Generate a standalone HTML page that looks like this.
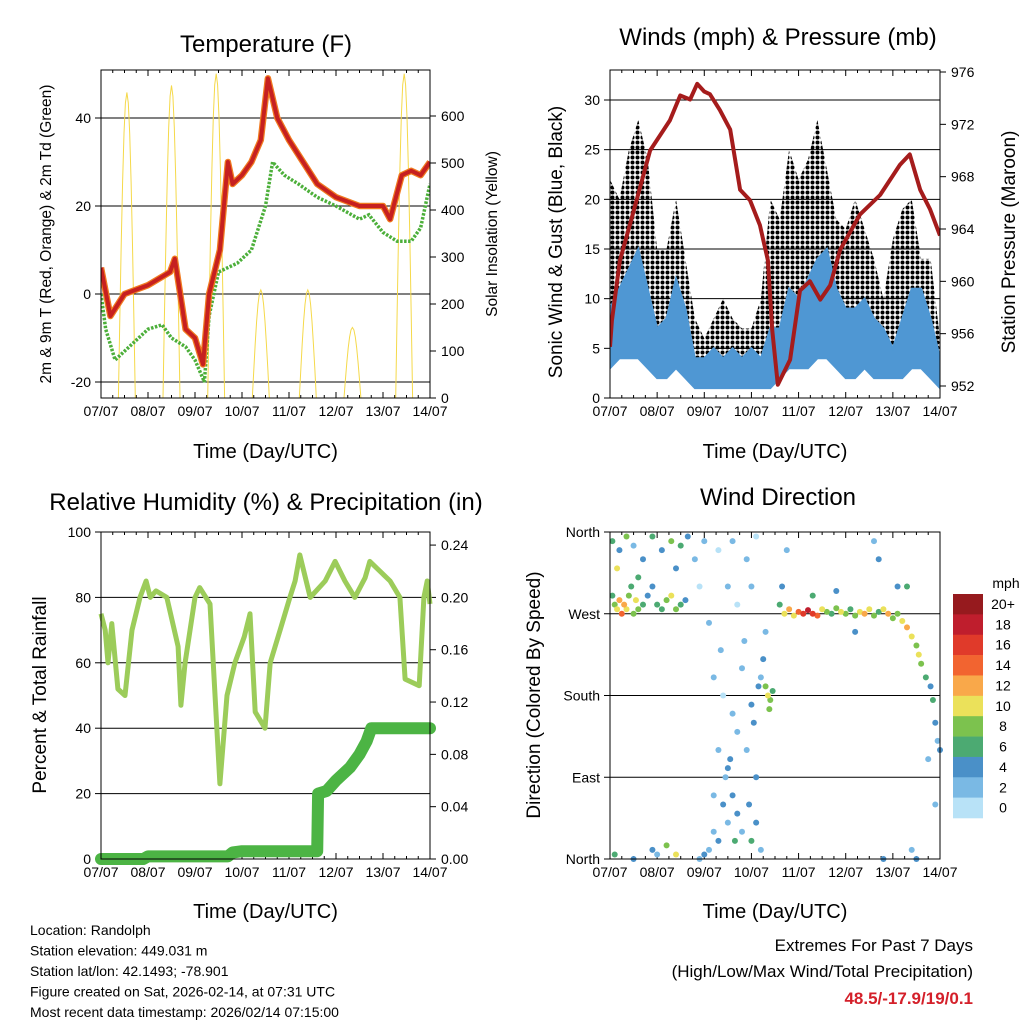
<!DOCTYPE html>
<html><head><meta charset="utf-8"><style>
html,body{margin:0;padding:0;background:#fff}
svg{display:block;font-family:"Liberation Sans",sans-serif}
</style></head><body>
<svg id="s" width="1024" height="1024" viewBox="0 0 1024 1024" xmlns="http://www.w3.org/2000/svg">
<defs>
<pattern id="dots" width="5" height="5" patternUnits="userSpaceOnUse"><circle cx="2.5" cy="2.5" r="2" fill="#000"/></pattern>
</defs>
</svg>
<script>
// ---------- DATA ----------
const dayLabels=["07/07","08/07","09/07","10/07","11/07","12/07","13/07","14/07"];
const tempT=[0,0.2,0.5,1.0,1.47,1.57,1.8,2.0,2.17,2.3,2.53,2.7,2.8,3.0,3.2,3.4,3.55,3.75,4.0,4.3,4.6,5.0,5.5,6.0,6.15,6.4,6.6,6.8,7.0];
const tempV=[6,-5,0,2,5,8,-8,-10,-16,0,10,30,25,27,30,35,49,40,35,30,25,22,20,20,17,27,28,27,30];
const dewT=[0,0.1,0.3,0.6,1.0,1.3,1.5,1.8,2.0,2.2,2.3,2.5,2.9,3.2,3.5,3.65,3.9,4.2,4.6,5.0,5.5,5.7,6.0,6.3,6.6,6.8,7.0];
const dewV=[0,-8,-15,-12,-8,-7,-10,-12,-15,-20,-5,5,7,10,20,30,27,25,22,20,17,18,14,12,12,15,25];
const solarPeakDay=[0.55,1.5,2.45,3.4,4.4,5.35,6.45];
const solarPeak=[650,665,690,230,230,150,690];
const windT=[0,0.2,0.4,0.6,0.8,1.0,1.2,1.4,1.6,1.8,2.0,2.2,2.4,2.6,2.8,3.0,3.2,3.4,3.6,3.8,4.0,4.2,4.4,4.6,4.8,5.0,5.2,5.4,5.6,5.8,6.0,6.2,6.4,6.6,6.8,7.0];
const gustHi=[22,20,25,28,24,15,15,20,14,8,6,8,10,8,7,7,10,20,18,25,22,24,28,23,18,17,20,17,14,10,16,19,20,14,14,6];
const gustLo=[6,7,9,10,8,5,5,7,5,3,2,2,3,2,2,2,2,4,5,7,7,8,9,9,7,6,6,6,5,4,4,5,6,6,4,2];
const windHi=[9,11,13,15,11,7,8,12,9,4,4,5,4,5,4,5,4,7,7,11,10,12,14,15,11,9,9,10,8,7,5,8,11,11,8,4];
const windLo=[3,4,4,4,3,2,2,3,2,1,1,1,1,1,1,1,1,1,2,3,3,3,4,4,3,2,2,3,2,2,2,2,3,3,2,1];
const pressT=[0,0.04,0.21,0.42,0.85,1.27,1.49,1.7,1.85,2.0,2.12,2.33,2.55,2.76,2.97,3.18,3.35,3.44,3.56,3.82,4.03,4.24,4.46,4.67,4.88,5.3,5.73,6.15,6.36,6.58,6.79,7.0];
const pressV=[955,957,961.6,964.3,970,972.3,974.2,973.9,975.1,974.5,974.3,973.1,971.6,967,966.2,964.3,961.6,956.3,952.1,954,959.3,960,958.6,959.7,962.4,965.1,966.6,968.9,969.7,967,965.5,963.5];
const rhT=[0,0.09,0.15,0.23,0.36,0.51,0.66,0.83,0.96,1.05,1.17,1.4,1.64,1.7,1.79,2.0,2.1,2.32,2.53,2.68,2.85,3.05,3.17,3.28,3.49,3.6,3.81,4.02,4.13,4.23,4.45,4.77,4.98,5.19,5.4,5.62,5.72,6.15,6.36,6.47,6.77,6.87,6.94,7.0];
const rhV=[75,70,60,72,52,50,70,80,85,80,82,80,65,47,60,80,83,78,23,50,60,68,75,45,40,60,70,80,85,93,80,85,91,85,80,86,91,85,80,55,53,80,85,78];
const precT=[0,0.9,1.0,2.7,2.8,3.0,4.6,4.62,4.8,5.0,5.3,5.5,5.65,5.75,7.0];
const precV=[0,0,0.002,0.002,0.005,0.006,0.006,0.05,0.052,0.06,0.07,0.08,0.09,0.1,0.1];
const dirT=[0.05,0.1,0.15,0.2,0.25,0.3,0.35,0.4,0.45,0.5,0.55,0.6,0.7,0.8,0.9,1.0,1.1,1.2,1.3,1.4,1.5,1.6,0.05,0.2,0.35,0.5,0.7,0.9,1.1,1.3,1.5,1.65,0.15,0.6,1.4,0.1,0.5,0.9,1.0,1.2,1.4,
1.8,1.9,2.0,2.1,2.3,2.5,2.6,2.7,2.9,3.0,3.1,2.2,2.4,2.6,2.8,3.0,3.2,2.3,2.5,2.7,2.9,3.1,2.4,2.5,2.6,2.2,2.3,2.1,2.0,1.9,2.7,2.8,2.95,3.0,3.1,3.2,2.45,2.55,3.05,3.15,3.25,2.85,2.35,3.3,2.2,2.65,
3.3,3.35,3.4,3.45,3.38,
3.6,3.7,3.8,3.9,4.0,4.1,4.2,4.3,4.4,4.5,4.6,4.7,4.8,4.9,5.0,5.1,5.2,5.3,5.4,5.5,5.6,5.7,5.8,5.9,6.0,3.65,3.75,4.3,4.8,5.6,5.7,6.1,5.2,
6.1,6.2,6.3,6.4,6.5,6.55,6.6,6.7,6.8,6.85,6.9,6.95,7.0,6.75,6.4,6.5,5.8,6.3,6.9];
const dirV=[290,280,275,285,270,280,275,290,300,270,285,275,280,290,300,280,275,285,290,275,280,285,350,340,355,345,330,355,340,350,345,355,320,310,320,5,0,10,5,15,5,
330,300,350,260,340,300,350,280,330,300,355,200,180,160,210,170,200,120,100,140,120,90,60,40,70,30,20,10,5,0,50,30,60,20,40,10,90,110,150,190,220,240,230,250,70,20,
190,180,175,185,165,
280,270,275,268,272,270,274,270,268,275,272,270,276,272,270,275,268,272,270,275,268,272,275,270,265,300,340,290,295,350,330,300,250,
270,262,255,245,235,225,215,200,190,175,150,130,120,110,10,0,0,300,60];
const dirS=[6,8,10,12,14,12,10,8,6,9,11,8,6,4,5,7,6,9,10,8,6,4,6,4,8,2,4,6,4,8,6,4,10,6,4,6,4,4,2,8,10,
2,0,2,2,0,2,2,0,2,2,0,2,0,2,2,4,2,2,4,2,2,4,4,2,4,2,4,2,4,2,4,2,4,6,4,2,2,4,4,4,4,2,2,2,2,6,
8,10,8,6,8,
6,10,12,10,14,16,18,16,14,10,8,6,8,10,8,6,8,10,12,10,8,6,10,12,8,4,2,6,4,2,4,4,4,
8,10,12,10,8,10,8,6,4,6,4,2,4,2,2,4,4,6,2];
const cbLabels=["20+","18","16","14","12","10","8","6","4","2","0"];
const cbColors=["#961a1e","#bf1e2d","#e03a2a","#f26430","#f9a84a","#ebe15a","#7cc24e","#4caa72","#4a90c8","#7ab9e4","#b8e2f7"];

// ---------- HELPERS ----------
const NS="http://www.w3.org/2000/svg";
const svg=document.getElementById('s');
function el(tag,attrs,parent){const e=document.createElementNS(NS,tag);for(const k in attrs)e.setAttribute(k,attrs[k]);(parent||svg).appendChild(e);return e;}
function txt(s,x,y,size,anchor,parent,extra){const t=el('text',Object.assign({x:x,y:y,'font-size':size,'text-anchor':anchor||'middle',fill:'#000'},extra||{}),parent);t.textContent=s;return t;}
function scale(d0,d1,r0,r1){return v=>r0+(v-d0)/(d1-d0)*(r1-r0);}
function pts(xs,ys,fx,fy){return xs.map((x,i)=>fx(x).toFixed(1)+','+fy(ys[i]).toFixed(1)).join(' ');}

function panel(name){
  const g=el('g',{});
  
  
  return g;
}
function frame(g,x0,y0,x1,y1){
  const r=el('rect',{x:x0,y:y0,width:x1-x0,height:y1-y0,fill:'none',stroke:'#000','stroke-width':1},g);
  
  
}
function xAxis(g,x0,x1,y0,y1,labY,titleY){
  const fx=scale(0,7,x0,x1);
  for(let i=0;i<=7;i++){
    const x=fx(i);
    el('line',{x1:x,y1:y1,x2:x,y2:y1-6,stroke:'#000'},g);
    el('line',{x1:x,y1:y0,x2:x,y2:y0+6,stroke:'#000'},g);
    const t=txt(dayLabels[i],x,labY,14,'middle',g);
    
    
    if(i<7){for(let k=1;k<4;k++){const xm=fx(i+k/4);el('line',{x1:xm,y1:y1,x2:xm,y2:y1-3,stroke:'#000'},g);el('line',{x1:xm,y1:y0,x2:xm,y2:y0+3,stroke:'#000'},g);}}
  }
  const t=txt('Time (Day/UTC)',(x0+x1)/2,titleY,20,'middle',g);
  
  
  return fx;
}
function yTicks(g,vals,labels,fy,x,side,grid,x0,x1){
  vals.forEach((v,i)=>{
    const y=fy(v);
    if(side==='L'){el('line',{x1:x,y1:y,x2:x-6,y2:y,stroke:'#000'},g);
      const t=txt(labels[i],x-10,y+5,14,'end',g);
      
      
      if(grid) el('line',{x1:x0,y1:y,x2:x1,y2:y,stroke:'#000','stroke-width':1},g);
    } else {el('line',{x1:x,y1:y,x2:x+6,y2:y,stroke:'#000'},g);
      const t=txt(labels[i],x+11,y+5,14,'start',g);
      
      }
  });
}
function vTitle(g,s,x,y,size,name){const t=txt(s,x,y,size,'middle',g,{transform:'rotate(-90 '+x+' '+y+')'});}
function title(g,s,x,y,name){const t=txt(s,x,y,24,'middle',g);}

// ---------- PANEL 1: TEMPERATURE ----------
(function(){
  const X0=101,X1=430,Y0=70,Y1=398;
  const g=panel('temperature-panel');
  const fy=scale(-20,40,382,118), fs=scale(0,600,398,116);
  const fx=xAxis(g,X0,X1,Y0,Y1,416,458);
  yTicks(g,[-20,0,20,40],["-20","0","20","40"],fy,X0,'L',true,X0,X1);
  yTicks(g,[0,100,200,300,400,500,600],["0","100","200","300","400","500","600"],fs,X1,'R');
  const clip=el('clipPath',{id:'c1'},g);el('rect',{x:X0,y:Y0,width:X1-X0,height:Y1-Y0},clip);
  const pg=el('g',{'clip-path':'url(#c1)'},g);
  solarPeakDay.forEach((d,i)=>{
    const xs=[],ys=[];
    for(let k=-6;k<=6;k++){const dt=k*0.03;xs.push(d+dt);ys.push(Math.max(0,solarPeak[i]*Math.cos(dt/0.18*Math.PI/2)));}
    const p=el('polyline',{points:pts(xs,ys,fx,fs),fill:'none',stroke:'#f5d94a','stroke-width':1},pg);
    
    
  });
  const d=el('polyline',{points:pts(dewT,dewV,fx,fy),fill:'none',stroke:'#4caf3a','stroke-width':3.5,'stroke-dasharray':'2.5 1.5'},pg);
  
  
  const o=el('polyline',{points:pts(tempT,tempV,fx,fy),fill:'none',stroke:'#f07a20','stroke-width':6.5,'stroke-linejoin':'round'},pg);
  
  
  const r=el('polyline',{points:pts(tempT,tempV,fx,fy),fill:'none',stroke:'#c62020','stroke-width':4,'stroke-linejoin':'round'},pg);
  
  
  frame(g,X0,Y0,X1,Y1);
  title(g,'Temperature (F)',266,52,'temperature-title');
  vTitle(g,'2m & 9m T (Red, Orange) & 2m Td (Green)',51,234,15.5,'y-axis-title');
  vTitle(g,'Solar Insolation (Yellow)',497,234,15.5,'y2-axis-title');
})();

// ---------- PANEL 2: WINDS ----------
(function(){
  const X0=610,X1=940,Y0=70,Y1=398;
  const g=panel('winds-panel');
  const fy=scale(0,30,398,100), fp=scale(952,976,386,72);
  const fx=xAxis(g,X0,X1,Y0,Y1,416,458);
  yTicks(g,[0,5,10,15,20,25,30],["0","5","10","15","20","25","30"],fy,X0,'L',true,X0,X1);
  yTicks(g,[952,956,960,964,968,972,976],["952","956","960","964","968","972","976"],fp,X1,'R');
  const clip=el('clipPath',{id:'c2'},g);el('rect',{x:X0,y:Y0,width:X1-X0,height:Y1-Y0},clip);
  const pg=el('g',{'clip-path':'url(#c2)'},g);
  const gp=pts(windT,gustHi,fx,fy)+' '+pts(windT.slice().reverse(),gustLo.slice().reverse(),fx,fy);
  const gb=el('polygon',{points:gp,fill:'url(#dots)',stroke:'none'},pg);
  
  
  const wp=pts(windT,windHi,fx,fy)+' '+pts(windT.slice().reverse(),windLo.slice().reverse(),fx,fy);
  const wb=el('polygon',{points:wp,fill:'#4f97d3',stroke:'#4f97d3','stroke-width':2},pg);
  
  
  const p=el('polyline',{points:pts(pressT,pressV,fx,fp),fill:'none',stroke:'#a51c1c','stroke-width':4,'stroke-linejoin':'round'},pg);
  
  
  frame(g,X0,Y0,X1,Y1);
  title(g,'Winds (mph) & Pressure (mb)',778,45,'winds-title');
  vTitle(g,'Sonic Wind & Gust (Blue, Black)',562,242,19,'y-axis-title');
  vTitle(g,'Station Pressure (Maroon)',1015,242,19,'y2-axis-title');
})();

// ---------- PANEL 3: RH ----------
(function(){
  const X0=101,X1=430,Y0=532,Y1=859;
  const g=panel('humidity-panel');
  const fy=scale(0,100,859,532), fr=scale(0,0.25,859,532);
  const fx=xAxis(g,X0,X1,Y0,Y1,877,918);
  yTicks(g,[0,20,40,60,80,100],["0","20","40","60","80","100"],fy,X0,'L',true,X0,X1);
  yTicks(g,[0,0.04,0.08,0.12,0.16,0.2,0.24],["0.00","0.04","0.08","0.12","0.16","0.20","0.24"],fr,X1,'R');
  const clip=el('clipPath',{id:'c3'},g);el('rect',{x:X0-6,y:Y0,width:X1-X0+12,height:Y1-Y0+8},clip);
  const pg=el('g',{'clip-path':'url(#c3)'},g);
  const rh=el('polyline',{points:pts(rhT,rhV,fx,fy),fill:'none',stroke:'#9ccc5a','stroke-width':5,'stroke-linejoin':'round'},pg);
  
  
  const pr=el('polyline',{points:pts(precT,precV,fx,fr),fill:'none',stroke:'#4cb444','stroke-width':12,'stroke-linejoin':'round','stroke-linecap':'round'},pg);
  
  
  frame(g,X0,Y0,X1,Y1);
  title(g,'Relative Humidity (%) & Precipitation (in)',266,510,'humidity-title');
  vTitle(g,'Percent & Total Rainfall',46,695,19,'y-axis-title');
})();

// ---------- PANEL 4: WIND DIRECTION ----------
(function(){
  const X0=610,X1=940,Y0=532,Y1=859;
  const g=panel('wind-direction-panel');
  const fy=scale(0,360,859,532);
  const fx=xAxis(g,X0,X1,Y0,Y1,877,918);
  yTicks(g,[0,90,180,270,360],["North","East","South","West","North"],fy,X0,'L',true,X0,X1);
  const clip=el('clipPath',{id:'c4'},g);el('rect',{x:X0,y:Y0-4,width:X1-X0+4,height:Y1-Y0+8},clip);
  const pg=el('g',{'clip-path':'url(#c4)'},g);
  const idx=dirT.map((t,i)=>i).sort((a,b)=>dirS[a]-dirS[b]);
  idx.forEach(i=>{
    const bin=Math.min(10,Math.floor(dirS[i]/2));
    const c=el('circle',{cx:fx(dirT[i]),cy:fy(dirV[i]),r:3,fill:cbColors[10-bin]},pg);
    
    
  });
  frame(g,X0,Y0,X1,Y1);
  title(g,'Wind Direction',778,505,'wind-direction-title');
  vTitle(g,'Direction (Colored By Speed)',540,695,19,'y-axis-title');
  const lg=el('g',{});
  
  
  txt('mph',1006,588,14,'middle',lg);
  const h=224/11;
  cbLabels.forEach((l,i)=>{
    const r=el('rect',{x:953,y:594+i*h,width:30,height:h+0.3,fill:cbColors[i]},lg);
    
    
    txt(l,1003,594+i*h+15,14,'middle',lg);
  });
})();

// ---------- FOOTER ----------
(function(){
  const g=el('g',{});
  
  
  ["Location: Randolph","Station elevation: 449.031 m","Station lat/lon: 42.1493; -78.901","Figure created on Sat, 2026-02-14, at 07:31 UTC","Most recent data timestamp: 2026/02/14 07:15:00"].forEach((s,i)=>txt(s,30,935+i*20.5,14,'start',g));
  const e=el('g',{});
  
  
  txt('Extremes For Past 7 Days',973,951,17,'end',e);
  txt('(High/Low/Max Wind/Total Precipitation)',973,977,17,'end',e);
  txt('48.5/-17.9/19/0.1',973,1004,17,'end',e,{fill:'#d4202a','font-weight':'bold'});
})();
</script>
</body></html>
